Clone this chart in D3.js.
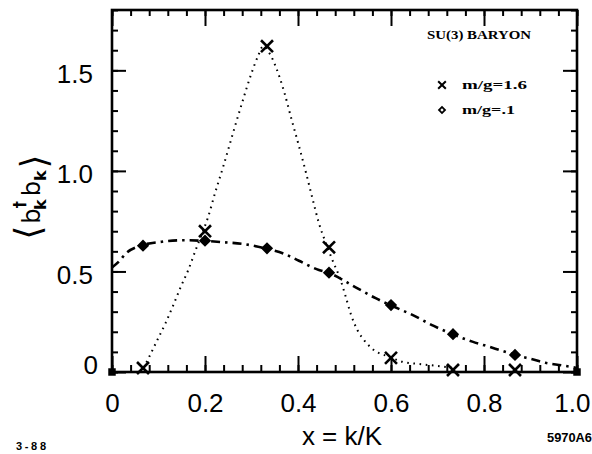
<!DOCTYPE html>
<html>
<head>
<meta charset="utf-8">
<script src="https://cdn.jsdelivr.net/npm/d3@7"></script>
<style>
  html, body { margin: 0; padding: 0; background: #fff; }
  svg { display: block; }
</style>
</head>
<body>
<svg id="chart" width="592" height="454"></svg>
<script>
// ---------------- data ----------------
const xTickValues = [0, 0.2, 0.4, 0.6, 0.8, 1.0];
const xTickLabels = ["0", "0.2", "0.4", "0.6", "0.8", "1.0"];
const yTickValues = [0, 0.5, 1.0, 1.5];
const yTickLabels = ["0", "0.5", "1.0", "1.5"];

// sample points x = k/K
const sampleX = [1/15, 3/15, 5/15, 7/15, 9/15, 11/15, 13/15];
// m/g = 1.6 (crosses)
const heavyY = [0.02, 0.70, 1.62, 0.62, 0.07, 0.01, 0.01];
// m/g = .1 (diamonds)
const lightY = [0.628, 0.653, 0.615, 0.494, 0.333, 0.188, 0.085];

// boundary points
const edgeX = [0, 1];
const edgeY = [0, 0];

// fitted curve, m/g = 1.6 (dotted)
const heavyFitX = [0.068, 0.08, 0.0975, 0.115, 0.131, 0.148, 0.164, 0.18, 0.194, 0.207, 0.2215, 0.239, 0.263, 0.281, 0.30, 0.3146, 0.325, 0.34, 0.352, 0.3706, 0.386, 0.402, 0.4165, 0.431, 0.445, 0.46, 0.474, 0.4915, 0.5026, 0.513, 0.5276, 0.542, 0.563, 0.596, 0.624, 0.66, 0.70, 0.73];
const heavyFitY = [0.02, 0.075, 0.159, 0.242, 0.328, 0.424, 0.507, 0.607, 0.69, 0.773, 0.889, 1.02, 1.21, 1.348, 1.486, 1.574, 1.62, 1.58, 1.519, 1.39, 1.257, 1.124, 0.997, 0.864, 0.74, 0.64, 0.557, 0.458, 0.375, 0.292, 0.209, 0.159, 0.109, 0.076, 0.051, 0.04, 0.03, 0.022];

// fitted curve, m/g = .1 (dash-dot)
const lightFitX = [0, 0.015, 0.03, 0.0616, 0.1075, 0.155, 0.2, 0.241, 0.284, 0.329, 0.37, 0.402, 0.445, 0.4645, 0.524, 0.567, 0.598, 0.646, 0.692, 0.732, 0.775, 0.818, 0.867, 0.904, 0.932, 0.968, 1.0];
const lightFitY = [0.52, 0.55, 0.59, 0.628, 0.648, 0.655, 0.652, 0.645, 0.636, 0.615, 0.588, 0.553, 0.507, 0.494, 0.421, 0.367, 0.333, 0.284, 0.229, 0.188, 0.151, 0.121, 0.085, 0.063, 0.046, 0.033, 0.02];

const legendLabels = ["m/g=1.6", "m/g=.1"];
const legendTitle = "SU(3) BARYON";

// ---------------- drawing ----------------
const svg = d3.select("#chart");
const L = 112, R = 577, T = 10, B = 372;
const x = d3.scaleLinear().domain([0, 1]).range([L, R]);
const y = d3.scaleLinear().domain([0, 1.8]).range([B, T]);

const tickFont = "'Liberation Sans', Arial, sans-serif";

// minor ticks
const xMinor = d3.range(0, 1.0001, 0.04);
const yMinor = d3.range(0, 1.8001, 0.1);

function styleAxis(g) {
  g.select(".domain").remove();
  g.selectAll(".tick line").attr("stroke", "#000").attr("stroke-width", 2);
}

// bottom axis
svg.append("g").attr("transform", `translate(0,${B})`)
  .call(d3.axisBottom(x).tickValues(xMinor).tickSize(-7).tickSizeOuter(0).tickFormat(""))
  .call(styleAxis);
const xAx = svg.append("g").attr("transform", `translate(0,${B})`)
  .call(d3.axisBottom(x).tickValues(xTickValues).tickSize(-16).tickSizeOuter(0).tickPadding(22)
    .tickFormat((d, i) => xTickLabels[i]))
  .call(styleAxis);
xAx.selectAll("text").attr("font-family", tickFont).attr("font-size", 26).attr("fill", "#000");
xAx.selectAll(".tick").filter(d => d === 1).select("text")
  .attr("text-anchor", "end").attr("x", 13);

// top axis
svg.append("g").attr("transform", `translate(0,${T})`)
  .call(d3.axisTop(x).tickValues(xMinor).tickSize(-6).tickSizeOuter(0).tickFormat(""))
  .call(styleAxis);
svg.append("g").attr("transform", `translate(0,${T})`)
  .call(d3.axisTop(x).tickValues(xTickValues).tickSize(-16).tickSizeOuter(0).tickFormat(""))
  .call(styleAxis);

// left axis
svg.append("g").attr("transform", `translate(${L},0)`)
  .call(d3.axisLeft(y).tickValues(yMinor).tickSize(-6).tickSizeOuter(0).tickFormat(""))
  .call(styleAxis);
const yAx = svg.append("g").attr("transform", `translate(${L},0)`)
  .call(d3.axisLeft(y).tickValues(yTickValues).tickSize(-14).tickSizeOuter(0).tickPadding(19)
    .tickFormat((d, i) => yTickLabels[i]))
  .call(styleAxis);
yAx.selectAll("text").attr("font-family", tickFont).attr("font-size", 26).attr("fill", "#000")
  .attr("dy", "0.45em");
yAx.selectAll(".tick").filter(d => d === 0).select("text").attr("x", -14).attr("dy", "0.04em");

// right axis
svg.append("g").attr("transform", `translate(${R},0)`)
  .call(d3.axisRight(y).tickValues(yMinor).tickSize(-6).tickSizeOuter(0).tickFormat(""))
  .call(styleAxis);
svg.append("g").attr("transform", `translate(${R},0)`)
  .call(d3.axisRight(y).tickValues(yTickValues).tickSize(-14).tickSizeOuter(0).tickFormat(""))
  .call(styleAxis);

// frame
svg.append("rect").attr("x", L).attr("y", T).attr("width", R - L).attr("height", B - T)
  .attr("fill", "none").attr("stroke", "#000").attr("stroke-width", 2.6);

// curves
const line = d3.line().x(d => x(d[0])).y(d => y(d[1])).curve(d3.curveMonotoneX);
svg.append("path")
  .datum(d3.zip(heavyFitX, heavyFitY))
  .attr("d", line).attr("fill", "none").attr("stroke", "#000")
  .attr("stroke-width", 2).attr("stroke-dasharray", "1.6,4.6");
svg.append("path")
  .datum(d3.zip(lightFitX, lightFitY))
  .attr("d", line).attr("fill", "none").attr("stroke", "#000")
  .attr("stroke-width", 2.6).attr("stroke-dasharray", "9,5,2.5,5");

// markers
const crossPath = d3.symbol(d3.symbolX, 95)();
svg.append("g").selectAll("path").data(d3.zip(sampleX, heavyY)).join("path")
  .attr("d", crossPath)
  .attr("transform", d => `translate(${x(d[0])},${y(d[1])})`)
  .attr("fill", "none").attr("stroke", "#000").attr("stroke-width", 2.6);

const diamondPath = d3.symbol(d3.symbolSquare, 42)();
svg.append("g").selectAll("path").data(d3.zip(sampleX, lightY)).join("path")
  .attr("d", diamondPath)
  .attr("transform", d => `translate(${x(d[0])},${y(d[1])}) rotate(45)`)
  .attr("fill", "#000").attr("stroke", "#000").attr("stroke-width", 2.2);

const squarePath = d3.symbol(d3.symbolSquare, 56)();
svg.append("g").selectAll("path").data(d3.zip(edgeX, edgeY)).join("path")
  .attr("d", squarePath)
  .attr("transform", d => `translate(${x(d[0])},${y(d[1])})`)
  .attr("fill", "#000");

// legend
const legFont = "'Liberation Serif', 'Times New Roman', serif";
svg.append("text").attr("x", 427).attr("y", 39).text(legendTitle)
  .attr("font-family", legFont).attr("font-weight", "bold").attr("font-size", 13)
  .attr("textLength", 104).attr("lengthAdjust", "spacingAndGlyphs");
const legRows = [
  { label: legendLabels[0], yy: 85, sym: "x" },
  { label: legendLabels[1], yy: 110, sym: "d" }
];
legRows.forEach((r, i) => {
  if (r.sym === "x") {
    svg.append("path").attr("d", d3.symbol(d3.symbolX, 40)())
      .attr("transform", `translate(442,${r.yy})`)
      .attr("fill", "none").attr("stroke", "#000").attr("stroke-width", 2);
  } else {
    svg.append("path").attr("d", d3.symbol(d3.symbolSquare, 18)())
      .attr("transform", `translate(442,${r.yy}) rotate(45)`)
      .attr("fill", "#fff").attr("stroke", "#000").attr("stroke-width", 1.8);
  }
  svg.append("text").attr("x", 462).attr("y", r.yy + 4).text(r.label)
    .attr("font-family", legFont).attr("font-weight", "bold").attr("font-size", 13)
    .attr("textLength", i === 0 ? 65 : 53).attr("lengthAdjust", "spacingAndGlyphs");
});

// axis titles
svg.append("text").attr("x", 342).attr("y", 445).attr("text-anchor", "middle")
  .attr("font-family", tickFont).attr("font-size", 26).text("x = k/K");

const yt = svg.append("text")
  .attr("transform", "translate(40,197) rotate(-90)")
  .attr("text-anchor", "middle")
  .attr("font-family", "'DejaVu Sans', sans-serif").attr("font-size", 24);
yt.append("tspan").attr("font-size", 36).attr("dy", 0).text("\u27E8");
yt.append("tspan").attr("dx", 2).text("b");
yt.append("tspan").attr("font-size", 15).attr("dy", -15).attr("font-weight", "bold").text("\u2020");
yt.append("tspan").attr("font-size", 16).attr("dx", -9).attr("dy", 21).attr("font-weight", "bold").text("k");
yt.append("tspan").attr("dx", 3).attr("dy", -6).text("b");
yt.append("tspan").attr("font-size", 16).attr("dy", 6).attr("font-weight", "bold").text("k");
yt.append("tspan").attr("font-size", 36).attr("dx", 2).attr("dy", 0).text("\u27E9");

// corner notes
svg.append("text").attr("x", 16).attr("y", 450).text("3-88")
  .attr("font-family", tickFont).attr("font-weight", "bold").attr("font-size", 11)
  .attr("textLength", 30).attr("lengthAdjust", "spacing");
svg.append("text").attr("x", 547).attr("y", 442).text("5970A6")
  .attr("font-family", tickFont).attr("font-weight", "bold").attr("font-size", 12)
  .attr("textLength", 45).attr("lengthAdjust", "spacingAndGlyphs");
</script>
</body>
</html>
